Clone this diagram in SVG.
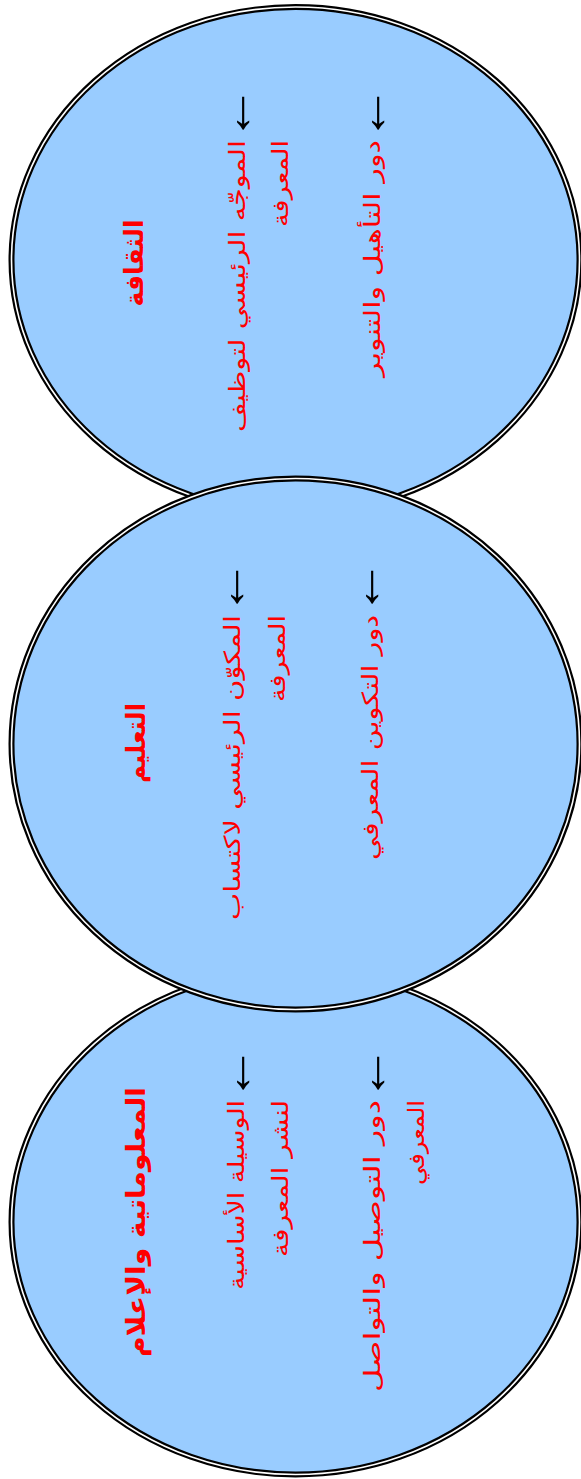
<svg xmlns="http://www.w3.org/2000/svg" width="581" height="1479" viewBox="0 0 581 1479">
<style>
.bg{fill:#99CCFF;stroke:#000;stroke-width:6}
.gap{fill:none;stroke:#fff;stroke-width:1.6}
.t{fill:#FF0000;font-family:"DejaVu Sans",sans-serif;font-size:22px;text-anchor:end}
.h{fill:#FF0000;font-family:"DejaVu Sans",sans-serif;font-size:26px;font-weight:bold;text-anchor:middle}
.ar{fill:#000;font-family:"Liberation Sans",sans-serif;font-size:40px;text-anchor:end}
</style>
<g id="connectors"></g>
<g id="node-culture">
<ellipse class="bg" cx="295.5" cy="260" rx="284" ry="253"/>
<ellipse class="gap" cx="295.5" cy="260" rx="284" ry="253"/>
<text class="h" transform="translate(143,263) rotate(-90)" textLength="87" lengthAdjust="spacingAndGlyphs">الثقافة</text>
<text class="ar" transform="translate(252,85) rotate(-90) scale(1.4,1.3)">←</text>
<text class="t" transform="translate(245,140) rotate(-90)" textLength="292" lengthAdjust="spacingAndGlyphs">الموجّه الرئيسي لتوظيف</text>
<text class="t" transform="translate(288,140) rotate(-90)" textLength="87" lengthAdjust="spacingAndGlyphs">المعرفة</text>
<text class="ar" transform="translate(387,85) rotate(-90) scale(1.4,1.3)">←</text>
<text class="t" transform="translate(380,140) rotate(-90)" textLength="237" lengthAdjust="spacingAndGlyphs">دور التأهيل والتنوير</text>
</g>
<g id="node-media">
<ellipse class="bg" cx="295.5" cy="1222" rx="284" ry="252.5"/>
<ellipse class="gap" cx="295.5" cy="1222" rx="284" ry="252.5"/>
<text class="h" transform="translate(145,1222) rotate(-90)" textLength="270" lengthAdjust="spacingAndGlyphs">المعلوماتية والإعلام</text>
<text class="ar" transform="translate(252,1045) rotate(-90) scale(1.4,1.3)">←</text>
<text class="t" transform="translate(244,1100) rotate(-90)" textLength="190" lengthAdjust="spacingAndGlyphs">الوسيلة الأساسية</text>
<text class="t" transform="translate(288,1100) rotate(-90)" textLength="157" lengthAdjust="spacingAndGlyphs">لنشر المعرفة</text>
<text class="ar" transform="translate(387,1045) rotate(-90) scale(1.4,1.3)">←</text>
<text class="t" transform="translate(380,1100) rotate(-90)" textLength="292" lengthAdjust="spacingAndGlyphs">دور التوصيل والتواصل</text>
<text class="t" transform="translate(424,1100) rotate(-90)" textLength="85" lengthAdjust="spacingAndGlyphs">المعرفي</text>
</g>
<g id="node-education">
<ellipse class="bg" cx="295.5" cy="744" rx="284" ry="265.5"/>
<ellipse class="gap" cx="295.5" cy="744" rx="284" ry="265.5"/>
<text class="h" transform="translate(145,743) rotate(-90)" textLength="80" lengthAdjust="spacingAndGlyphs">التعليم</text>
<text class="ar" transform="translate(246,559) rotate(-90) scale(1.4,1.3)">←</text>
<text class="t" transform="translate(240,615) rotate(-90)" textLength="305" lengthAdjust="spacingAndGlyphs">المكوّن الرئيسي لاكتساب</text>
<text class="t" transform="translate(285,615) rotate(-90)" textLength="87" lengthAdjust="spacingAndGlyphs">المعرفة</text>
<text class="ar" transform="translate(381,559) rotate(-90) scale(1.4,1.3)">←</text>
<text class="t" transform="translate(378,615) rotate(-90)" textLength="245" lengthAdjust="spacingAndGlyphs">دور التكوين المعرفي</text>
</g>
</svg>
